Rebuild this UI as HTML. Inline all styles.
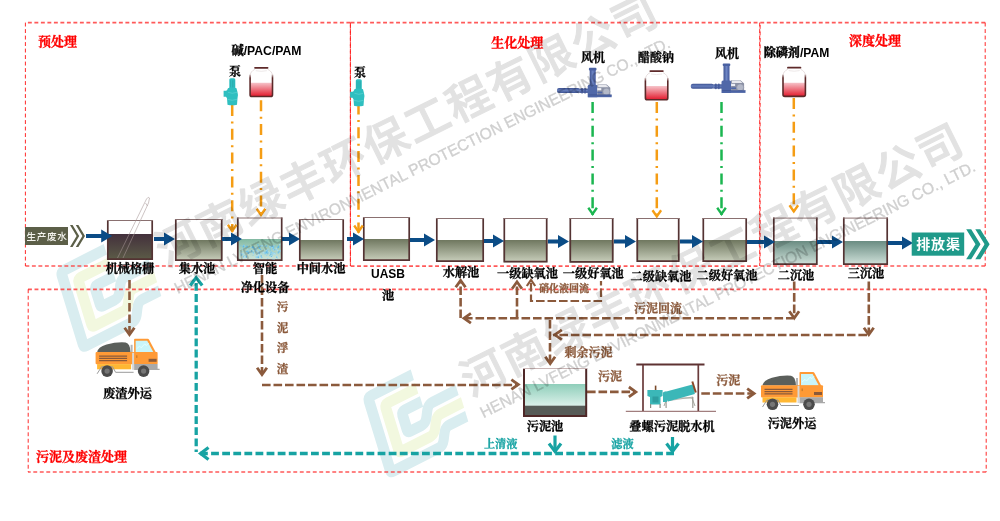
<!DOCTYPE html>
<html lang="zh"><head><meta charset="utf-8"><title>工艺流程图</title>
<style>html,body{margin:0;padding:0;background:#fff;overflow:hidden}svg{display:block;will-change:transform}</style></head>
<body><svg width="1000" height="521" viewBox="0 0 1000 521"><defs>
<linearGradient id="gw" x1="0" y1="0" x2="0" y2="1"><stop offset="0" stop-color="#6f775f"/><stop offset="1" stop-color="#cad0bd"/></linearGradient>
<linearGradient id="gd" x1="0" y1="0" x2="0" y2="1"><stop offset="0" stop-color="#43303c"/><stop offset="1" stop-color="#5c5c47"/></linearGradient>
<linearGradient id="gt" x1="0" y1="0" x2="0" y2="1"><stop offset="0" stop-color="#6a8c82"/><stop offset="1" stop-color="#d2e3dc"/></linearGradient>
<linearGradient id="gc" x1="0" y1="0" x2="0" y2="1"><stop offset="0" stop-color="#82b9a2"/><stop offset="1" stop-color="#d3e8de"/></linearGradient>
<linearGradient id="gs" x1="0" y1="0" x2="0" y2="1"><stop offset="0" stop-color="#8fceba"/><stop offset="1" stop-color="#dcf1ea"/></linearGradient>
<linearGradient id="gr" x1="0" y1="0" x2="0" y2="1"><stop offset="0" stop-color="#f6c3c9"/><stop offset="1" stop-color="#e31b2e"/></linearGradient>
<linearGradient id="gb" gradientUnits="userSpaceOnUse" x1="0" y1="7.5" x2="0" y2="11.5"><stop offset="0" stop-color="#e6dddd"/><stop offset="1" stop-color="#5c2929"/></linearGradient>
<linearGradient id="bp" x1="0" y1="0" x2="0" y2="1"><stop offset="0" stop-color="#3e5392"/><stop offset="0.45" stop-color="#657dbc"/><stop offset="1" stop-color="#3c5190"/></linearGradient>
<linearGradient id="bc" x1="0" y1="0" x2="1" y2="0"><stop offset="0" stop-color="#3e5392"/><stop offset="0.5" stop-color="#6d85c4"/><stop offset="1" stop-color="#40559a"/></linearGradient>
<g id="bottle">
  <path d="M6.5 2H19.5L24.6 8.5V28.5Q24.6 30 23 30H3Q1.4 30 1.4 28.5V8.5Z" fill="#fff"/>
  <path d="M1.8 16.3H24.2V28.4Q24.2 29.8 22.8 29.8H3.2Q1.8 29.8 1.8 28.4Z" fill="url(#gr)"/>
  <path d="M6.6 2.8Q1.9 5 1.8 9.5M19.4 2.8Q24.1 5 24.2 9.5" stroke="#e6dddd" stroke-width="1" fill="none"/>
  <path d="M7.5 4.2Q13 5.4 18.5 4.2" stroke="#e9e2e2" stroke-width="0.8" fill="none"/>
  <path d="M1.8 8V28.2Q1.8 30 3.6 30H22.4Q24.2 30 24.2 28.2V8" fill="none" stroke="url(#gb)" stroke-width="1.6"/>
  <path d="M6.7 1.3H19.3" stroke="#5e2a2a" stroke-width="1.7" stroke-linecap="round"/>
</g>
<g id="pump" fill="#2fbfc0">
  <rect x="6.3" y="0" width="6" height="11" rx="1.5"/>
  <path d="M5 10Q9 8 13.5 10L14.5 14Q15.5 17 14.5 20L14 26.5Q9 27.5 4.5 26.5L4 20L3 18.5H0.6V12.5H3L4 12Z"/>
  <path d="M7.5 2V9M9.5 2V9M11 2V9" stroke="#26a5a8" stroke-width="0.6" fill="none"/>
  <path d="M5 14Q9 16 14 14M4.5 21Q9 23 14 21" stroke="#5fd2d2" stroke-width="0.7" fill="none"/>
</g>
<g id="blower">
  <rect x="0.3" y="20.8" width="23" height="5" rx="2" fill="url(#bp)"/>
  <rect x="22.8" y="21.3" width="9" height="4.3" fill="url(#bp)"/>
  <rect x="24.6" y="20.6" width="1.5" height="5.6" rx="0.6" fill="#44599a"/>
  <rect x="27.6" y="20.6" width="1.5" height="5.6" rx="0.6" fill="#44599a"/>
  <rect x="33" y="2" width="6" height="16.5" fill="url(#bc)"/>
  <rect x="32.2" y="0.5" width="7.6" height="2.6" rx="1" fill="#4a61a2"/>
  <path d="M31 19Q31 17.5 32.5 17.5H39.5Q40.6 17.5 40.6 19V29.9H31Z" fill="#5068a8"/>
  <path d="M40.6 17.2H50L53.6 20.5V27.6H40.6Z" fill="#8a90a4"/>
  <path d="M41.5 17.6H49.5L52 20H41.5Z" fill="#e8e9ee"/>
  <rect x="40.6" y="20.8" width="4" height="2.2" fill="#eef0f5"/>
  <rect x="40.6" y="24.4" width="5" height="1.6" fill="#5068a8"/>
  <circle cx="49.7" cy="24.4" r="3.5" fill="#b4b9c8"/>
  <circle cx="49.7" cy="24.4" r="3.5" fill="none" stroke="#8e94a8" stroke-width="0.6"/>
  <rect x="31.5" y="27.5" width="23.5" height="2.4" fill="#4d65a6"/>
  <path d="M31.5 27.6H55" stroke="#3a4f8c" stroke-width="0.6"/>
</g>
<g id="truck">
  <path d="M1.5 13.5Q2 8.5 11 5.7Q21 3 30 3.7Q34.5 4.5 35 13.5Z" fill="#5b5f5b"/>
  <rect x="35" y="6" width="2" height="8" fill="#b5b5b5"/>
  <path d="M38.5 0.8Q38.5 0 39.4 0H52Q53 0 53.5 0.9L61.5 16V25H38.5Z" fill="#ff9a36"/>
  <path d="M40 2H51.6L57.8 13.5H40Z" fill="#c9f5fa"/>
  <path d="M41 10l3-2.6 1.6 1.6 3.6-4 1.4 1.8 2.6-2.6" stroke="#eaffff" stroke-width="0.8" fill="none"/>
  <rect x="0" y="13.3" width="62" height="12.2" rx="1" fill="#ff9a36"/>
  <rect x="1.5" y="25.3" width="34" height="5.2" fill="#ffb733"/>
  <path d="M38.5 25.3H62V30H64V31.2H38.5Z" fill="#a9a9a9"/>
  <rect x="36.5" y="14" width="2" height="17" fill="#d8d8d8"/>
  <path d="M3.5 17.3H31.5M3.5 19.6H31.5M3.5 21.9H31.5" stroke="#8a5a3a" stroke-width="1.3"/>
  <rect x="53" y="20" width="8" height="3" fill="#8a5a3a"/>
  <rect x="40.6" y="16.5" width="1.2" height="2.6" fill="#c47a2a"/>
  <path d="M1.5 35L6 28H17L20 33.5H38" stroke="#9a9a9a" stroke-width="1" fill="none"/>
  <circle cx="11.5" cy="32.3" r="5.8" fill="#4b4b4b"/><circle cx="11.5" cy="32.3" r="2.6" fill="#767676"/>
  <circle cx="48" cy="32.3" r="5.8" fill="#4b4b4b"/><circle cx="48" cy="32.3" r="2.6" fill="#767676"/>
</g>
<g id="logo" fill="none" stroke-width="11" stroke-linejoin="round">
  <path d="M55 5.2H8.2Q5.2 5.2 5.2 8.2V80.8Q5.2 83.8 8.2 83.8H59C69 83.8 66 67.8 76 67.8H95.5" stroke="#d9edf0"/>
  <path d="M55.3 19.4H22.4Q19.4 19.4 19.4 22.4V66.6Q19.4 69.6 22.4 69.6H54C64 69.6 61 53.6 71 53.6H95.5" stroke="#f2f8df"/>
  <path d="M56 33.6H36.6Q33.6 33.6 33.6 36.6V52.4Q33.6 55.4 36.6 55.4H49C59 55.4 56 39.4 66 39.4H94" stroke="#d9edf0"/>
</g>

</defs>
<use href="#logo" transform="matrix(0.891 -0.454 0.292 0.956 54.8 269.2)"/>
<use href="#logo" transform="matrix(0.891 -0.454 0.292 0.956 361.8 394.7)"/>
<path d="M350.3 22.6H25.4 M25.4 266H350.3" fill="none" stroke="#ff3030" stroke-width="1.7" stroke-dasharray="3.9 2.6" stroke-dashoffset="0" opacity="0.8"/>
<path d="M25.4 22.6V266" fill="none" stroke="#ff2020" stroke-width="1.0" stroke-dasharray="3.9 2.6" stroke-dashoffset="0" opacity="0.95"/>
<path d="M350.4 22.6V266" fill="none" stroke="#ff2020" stroke-width="1.0" stroke-dasharray="3.9 2.6" stroke-dashoffset="0" opacity="0.95"/>
<path d="M350.6 22.7H759.3 M350.6 266.1H759.3" fill="none" stroke="#ff3030" stroke-width="1.7" stroke-dasharray="3.9 2.6" stroke-dashoffset="0" opacity="0.8"/>
<path d="M350.4 24.6V266" fill="none" stroke="#ff2020" stroke-width="1.0" stroke-dasharray="3.9 2.6" stroke-dashoffset="0" opacity="0.95"/>
<path d="M350.4 22.6V266" fill="none" stroke="#ff2020" stroke-width="0.6" stroke-dasharray="3.9 2.6" stroke-dashoffset="3.6" opacity="0.6"/>
<path d="M759.7 22.6V266" fill="none" stroke="#ff2020" stroke-width="1.0" stroke-dasharray="3.9 2.6" stroke-dashoffset="0" opacity="0.95"/>
<path d="M760.3 22.6H985.2 M985.2 266H760.3" fill="none" stroke="#ff3030" stroke-width="1.7" stroke-dasharray="3.9 2.6" stroke-dashoffset="0" opacity="0.8"/>
<path d="M760.1 25V266" fill="none" stroke="#ff2020" stroke-width="1.0" stroke-dasharray="3.9 2.6" stroke-dashoffset="0" opacity="0.95"/>
<path d="M985.2 22.6V266" fill="none" stroke="#ff2020" stroke-width="1.0" stroke-dasharray="3.9 2.6" stroke-dashoffset="0" opacity="0.95"/>
<path d="M28 289.3H986.2 M986.2 472H28" fill="none" stroke="#ff3030" stroke-width="1.7" stroke-dasharray="3.9 2.6" stroke-dashoffset="0" opacity="0.8"/>
<path d="M28.2 289.3V472" fill="none" stroke="#ff2020" stroke-width="1.0" stroke-dasharray="3.9 2.6" stroke-dashoffset="0" opacity="0.95"/>
<path d="M986.2 289.3V472" fill="none" stroke="#ff2020" stroke-width="1.0" stroke-dasharray="3.9 2.6" stroke-dashoffset="0" opacity="0.95"/>
<rect x="107" y="220" width="46" height="40" fill="#fff"/>
<rect x="107" y="234" width="46" height="26" fill="url(#gd)"/>
<path d="M107.8 220V259.2H152.2V220" fill="none" stroke="#543333" stroke-width="1.7"/>
<path d="M107 220.5H153" fill="none" stroke="#8a7070" stroke-width="1"/>
<rect x="175" y="219" width="47.5" height="42" fill="#fff"/>
<rect x="175" y="240" width="47.5" height="21" fill="url(#gw)"/>
<path d="M175.8 219V260.2H221.7V219" fill="none" stroke="#543333" stroke-width="1.7"/>
<path d="M175 219.5H222.5" fill="none" stroke="#8a7070" stroke-width="1"/>
<rect x="237" y="217.5" width="45.5" height="43.5" fill="#fff"/>
<rect x="237" y="239" width="45.5" height="22" fill="url(#gc)"/>
<path d="M237.8 217.5V260.2H281.7V217.5" fill="none" stroke="#543333" stroke-width="1.7"/>
<path d="M237 218.0H282.5" fill="none" stroke="#8a7070" stroke-width="1"/>
<rect x="299" y="219" width="45" height="42" fill="#fff"/>
<rect x="299" y="240" width="45" height="21" fill="url(#gw)"/>
<path d="M299.8 219V260.2H343.2V219" fill="none" stroke="#543333" stroke-width="1.7"/>
<path d="M299 219.5H344" fill="none" stroke="#8a7070" stroke-width="1"/>
<rect x="363" y="217" width="47" height="44" fill="#fff"/>
<rect x="363" y="239" width="47" height="22" fill="url(#gw)"/>
<path d="M363.8 217V260.2H409.2V217" fill="none" stroke="#543333" stroke-width="1.7"/>
<path d="M363 217.5H410" fill="none" stroke="#8a7070" stroke-width="1"/>
<rect x="436" y="218" width="48" height="44" fill="#fff"/>
<rect x="436" y="240" width="48" height="22" fill="url(#gw)"/>
<path d="M436.8 218V261.2H483.2V218" fill="none" stroke="#543333" stroke-width="1.7"/>
<path d="M436 218.5H484" fill="none" stroke="#8a7070" stroke-width="1"/>
<rect x="503.5" y="218" width="44.0" height="44.39999999999998" fill="#fff"/>
<rect x="503.5" y="240" width="44.0" height="22.399999999999977" fill="url(#gw)"/>
<path d="M504.3 218V261.59999999999997H546.7V218" fill="none" stroke="#543333" stroke-width="1.7"/>
<path d="M503.5 218.5H547.5" fill="none" stroke="#8a7070" stroke-width="1"/>
<rect x="569.5" y="218" width="44.0" height="44.60000000000002" fill="#fff"/>
<rect x="569.5" y="240" width="44.0" height="22.600000000000023" fill="url(#gw)"/>
<path d="M570.3 218V261.8H612.7V218" fill="none" stroke="#543333" stroke-width="1.7"/>
<path d="M569.5 218.5H613.5" fill="none" stroke="#8a7070" stroke-width="1"/>
<rect x="636.5" y="218" width="43.0" height="44" fill="#fff"/>
<rect x="636.5" y="240" width="43.0" height="22" fill="url(#gw)"/>
<path d="M637.3 218V261.2H678.7V218" fill="none" stroke="#543333" stroke-width="1.7"/>
<path d="M636.5 218.5H679.5" fill="none" stroke="#8a7070" stroke-width="1"/>
<rect x="702.5" y="218" width="44.5" height="44" fill="#fff"/>
<rect x="702.5" y="240" width="44.5" height="22" fill="url(#gw)"/>
<path d="M703.3 218V261.2H746.2V218" fill="none" stroke="#543333" stroke-width="1.7"/>
<path d="M702.5 218.5H747" fill="none" stroke="#8a7070" stroke-width="1"/>
<rect x="773" y="217.6" width="44.60000000000002" height="47.400000000000006" fill="#fff"/>
<rect x="773" y="241" width="44.60000000000002" height="24" fill="url(#gt)"/>
<path d="M773.8 217.6V264.2H816.8000000000001V217.6" fill="none" stroke="#543333" stroke-width="1.7"/>
<path d="M773 218.1H817.6" fill="none" stroke="#8a7070" stroke-width="1"/>
<rect x="843" y="217.6" width="45" height="47.400000000000006" fill="#fff"/>
<rect x="843" y="241" width="45" height="24" fill="url(#gt)"/>
<path d="M843.8 217.6V264.2H887.2V217.6" fill="none" stroke="#543333" stroke-width="1.7"/>
<path d="M843 218.1H888" fill="none" stroke="#8a7070" stroke-width="1"/>
<g opacity="0.85"><circle cx="253.3" cy="247.8" r="0.78" fill="#6cc4f2"/><circle cx="272.9" cy="246.7" r="0.74" fill="#8fd4f6"/><circle cx="242.0" cy="251.4" r="0.48" fill="#6cc4f2"/><circle cx="262.3" cy="245.8" r="0.73" fill="#8fd4f6"/><circle cx="265.4" cy="252.9" r="0.48" fill="#a5defa"/><circle cx="242.5" cy="248.9" r="0.73" fill="#8fd4f6"/><circle cx="251.9" cy="247.6" r="0.51" fill="#55b6ec"/><circle cx="262.6" cy="253.8" r="0.50" fill="#8fd4f6"/><circle cx="255.2" cy="252.5" r="0.48" fill="#6cc4f2"/><circle cx="265.0" cy="252.1" r="0.72" fill="#55b6ec"/><circle cx="258.9" cy="256.9" r="0.63" fill="#8fd4f6"/><circle cx="271.9" cy="253.9" r="0.57" fill="#55b6ec"/><circle cx="261.2" cy="256.1" r="0.81" fill="#55b6ec"/><circle cx="264.6" cy="246.2" r="0.71" fill="#8fd4f6"/><circle cx="270.4" cy="247.8" r="0.69" fill="#6cc4f2"/><circle cx="278.5" cy="246.3" r="0.73" fill="#55b6ec"/><circle cx="253.9" cy="250.5" r="0.70" fill="#a5defa"/><circle cx="243.2" cy="246.6" r="0.58" fill="#6cc4f2"/><circle cx="242.9" cy="254.0" r="0.77" fill="#a5defa"/><circle cx="251.7" cy="250.9" r="0.78" fill="#6cc4f2"/><circle cx="277.7" cy="250.6" r="0.76" fill="#a5defa"/><circle cx="242.8" cy="254.7" r="0.51" fill="#8fd4f6"/><circle cx="256.2" cy="256.8" r="0.70" fill="#8fd4f6"/><circle cx="258.2" cy="252.5" r="0.89" fill="#a5defa"/><circle cx="274.6" cy="249.7" r="0.66" fill="#55b6ec"/><circle cx="267.5" cy="250.9" r="0.57" fill="#6cc4f2"/><circle cx="247.5" cy="249.0" r="0.57" fill="#a5defa"/><circle cx="273.3" cy="248.3" r="0.59" fill="#8fd4f6"/><circle cx="257.0" cy="250.7" r="0.73" fill="#8fd4f6"/><circle cx="267.8" cy="252.2" r="0.76" fill="#6cc4f2"/><circle cx="258.5" cy="256.0" r="0.93" fill="#a5defa"/><circle cx="256.2" cy="251.0" r="0.69" fill="#a5defa"/><circle cx="243.0" cy="246.0" r="0.55" fill="#8fd4f6"/><circle cx="244.8" cy="253.0" r="0.50" fill="#8fd4f6"/><circle cx="261.7" cy="257.5" r="0.76" fill="#6cc4f2"/><circle cx="275.0" cy="253.1" r="0.52" fill="#55b6ec"/><circle cx="278.2" cy="253.0" r="0.69" fill="#6cc4f2"/><circle cx="274.0" cy="259.1" r="0.68" fill="#a5defa"/><circle cx="252.8" cy="247.6" r="0.82" fill="#55b6ec"/><circle cx="259.4" cy="253.9" r="0.71" fill="#8fd4f6"/><circle cx="278.1" cy="252.4" r="0.52" fill="#6cc4f2"/><circle cx="270.4" cy="249.9" r="0.77" fill="#6cc4f2"/><circle cx="268.0" cy="249.4" r="0.63" fill="#8fd4f6"/><circle cx="254.5" cy="248.9" r="0.72" fill="#55b6ec"/><circle cx="265.6" cy="253.1" r="0.84" fill="#8fd4f6"/><circle cx="272.3" cy="255.3" r="0.82" fill="#8fd4f6"/><circle cx="248.4" cy="252.0" r="0.82" fill="#6cc4f2"/><circle cx="271.7" cy="251.8" r="0.55" fill="#55b6ec"/><circle cx="258.2" cy="257.2" r="0.94" fill="#55b6ec"/><circle cx="243.7" cy="246.8" r="0.69" fill="#55b6ec"/><circle cx="248.6" cy="253.2" r="0.90" fill="#6cc4f2"/><circle cx="259.4" cy="253.5" r="0.85" fill="#6cc4f2"/><circle cx="273.5" cy="247.2" r="0.64" fill="#8fd4f6"/><circle cx="259.4" cy="248.2" r="0.84" fill="#55b6ec"/><circle cx="243.9" cy="257.4" r="0.81" fill="#a5defa"/><circle cx="256.4" cy="257.4" r="0.81" fill="#8fd4f6"/><circle cx="279.7" cy="244.7" r="0.75" fill="#a5defa"/><circle cx="272.4" cy="247.7" r="0.86" fill="#a5defa"/><circle cx="266.5" cy="250.5" r="0.72" fill="#8fd4f6"/><circle cx="241.3" cy="255.0" r="0.81" fill="#6cc4f2"/><circle cx="261.3" cy="257.1" r="0.67" fill="#8fd4f6"/><circle cx="273.1" cy="248.7" r="0.58" fill="#55b6ec"/><circle cx="260.3" cy="254.6" r="0.61" fill="#a5defa"/><circle cx="273.5" cy="245.8" r="0.82" fill="#a5defa"/><circle cx="266.7" cy="255.2" r="0.71" fill="#8fd4f6"/><circle cx="261.5" cy="252.3" r="0.46" fill="#a5defa"/><circle cx="271.2" cy="253.1" r="0.84" fill="#8fd4f6"/><circle cx="247.3" cy="251.8" r="0.81" fill="#6cc4f2"/><circle cx="253.4" cy="252.3" r="0.73" fill="#6cc4f2"/><circle cx="275.4" cy="245.7" r="0.55" fill="#6cc4f2"/><circle cx="271.0" cy="252.2" r="0.73" fill="#6cc4f2"/><circle cx="258.0" cy="253.1" r="0.70" fill="#8fd4f6"/><circle cx="267.9" cy="251.6" r="0.72" fill="#a5defa"/><circle cx="260.6" cy="249.2" r="0.71" fill="#55b6ec"/><circle cx="276.9" cy="256.4" r="0.55" fill="#a5defa"/><circle cx="245.9" cy="247.2" r="0.67" fill="#6cc4f2"/><circle cx="267.0" cy="251.4" r="0.56" fill="#55b6ec"/><circle cx="271.5" cy="256.4" r="0.53" fill="#55b6ec"/><circle cx="246.1" cy="256.2" r="0.93" fill="#8fd4f6"/><circle cx="270.0" cy="246.7" r="0.89" fill="#8fd4f6"/><circle cx="279.6" cy="255.5" r="0.53" fill="#a5defa"/><circle cx="279.8" cy="251.1" r="0.66" fill="#55b6ec"/><circle cx="253.1" cy="254.2" r="0.46" fill="#a5defa"/><circle cx="257.9" cy="244.3" r="0.62" fill="#55b6ec"/><circle cx="260.7" cy="245.9" r="0.94" fill="#8fd4f6"/><circle cx="278.9" cy="246.9" r="0.58" fill="#6cc4f2"/><circle cx="276.3" cy="248.3" r="0.83" fill="#a5defa"/><circle cx="274.1" cy="253.7" r="0.92" fill="#a5defa"/><circle cx="246.4" cy="256.9" r="0.74" fill="#55b6ec"/><circle cx="244.0" cy="245.8" r="0.79" fill="#a5defa"/><circle cx="275.9" cy="249.5" r="0.46" fill="#6cc4f2"/><circle cx="272.2" cy="246.4" r="0.88" fill="#6cc4f2"/><circle cx="250.9" cy="247.2" r="0.46" fill="#a5defa"/><circle cx="277.1" cy="249.5" r="0.51" fill="#8fd4f6"/><circle cx="277.6" cy="258.1" r="0.58" fill="#8fd4f6"/><circle cx="248.5" cy="250.1" r="0.60" fill="#8fd4f6"/><circle cx="252.0" cy="252.1" r="0.54" fill="#55b6ec"/><circle cx="272.2" cy="259.2" r="0.47" fill="#6cc4f2"/><circle cx="269.5" cy="252.6" r="0.54" fill="#a5defa"/><circle cx="250.2" cy="251.6" r="0.78" fill="#a5defa"/><circle cx="266.4" cy="252.5" r="0.89" fill="#55b6ec"/><circle cx="267.7" cy="258.5" r="0.62" fill="#8fd4f6"/><circle cx="256.5" cy="250.5" r="0.48" fill="#8fd4f6"/><circle cx="241.1" cy="253.2" r="0.89" fill="#a5defa"/><circle cx="246.9" cy="246.4" r="0.87" fill="#55b6ec"/><circle cx="264.2" cy="253.9" r="0.47" fill="#8fd4f6"/><circle cx="246.7" cy="251.6" r="0.58" fill="#55b6ec"/><circle cx="278.9" cy="252.5" r="0.57" fill="#55b6ec"/><circle cx="249.1" cy="248.3" r="0.62" fill="#6cc4f2"/><circle cx="259.2" cy="252.1" r="0.55" fill="#6cc4f2"/><circle cx="244.1" cy="255.3" r="0.52" fill="#6cc4f2"/><circle cx="256.1" cy="249.9" r="0.76" fill="#6cc4f2"/><circle cx="263.6" cy="252.4" r="0.83" fill="#a5defa"/><circle cx="270.7" cy="254.2" r="0.70" fill="#55b6ec"/><circle cx="269.1" cy="253.4" r="0.47" fill="#a5defa"/><circle cx="269.5" cy="255.2" r="0.52" fill="#6cc4f2"/><circle cx="273.1" cy="252.9" r="0.90" fill="#8fd4f6"/><circle cx="243.9" cy="245.3" r="0.77" fill="#6cc4f2"/><circle cx="255.4" cy="251.6" r="0.48" fill="#6cc4f2"/><circle cx="265.2" cy="253.7" r="0.69" fill="#6cc4f2"/><circle cx="258.5" cy="246.1" r="0.92" fill="#6cc4f2"/><circle cx="266.5" cy="246.0" r="0.82" fill="#55b6ec"/><circle cx="272.5" cy="255.7" r="0.57" fill="#8fd4f6"/><circle cx="249.6" cy="253.5" r="0.68" fill="#a5defa"/><circle cx="243.5" cy="256.7" r="0.59" fill="#6cc4f2"/><circle cx="264.9" cy="253.4" r="0.49" fill="#8fd4f6"/><circle cx="253.6" cy="253.5" r="0.80" fill="#8fd4f6"/><circle cx="241.0" cy="245.8" r="0.58" fill="#6cc4f2"/><circle cx="267.8" cy="253.7" r="0.60" fill="#55b6ec"/><circle cx="258.9" cy="251.8" r="0.51" fill="#8fd4f6"/><circle cx="252.8" cy="246.5" r="0.69" fill="#55b6ec"/><circle cx="258.6" cy="255.3" r="0.93" fill="#a5defa"/><circle cx="279.8" cy="250.9" r="0.91" fill="#8fd4f6"/><circle cx="243.4" cy="246.6" r="0.82" fill="#55b6ec"/><circle cx="278.1" cy="247.4" r="0.86" fill="#55b6ec"/><circle cx="275.5" cy="254.0" r="0.57" fill="#a5defa"/><circle cx="256.1" cy="247.9" r="0.92" fill="#a5defa"/><circle cx="256.5" cy="254.2" r="0.66" fill="#a5defa"/><circle cx="253.0" cy="255.6" r="0.45" fill="#55b6ec"/><circle cx="273.6" cy="247.2" r="0.91" fill="#6cc4f2"/><circle cx="276.1" cy="249.8" r="0.64" fill="#a5defa"/><circle cx="255.9" cy="256.0" r="0.49" fill="#a5defa"/><circle cx="270.3" cy="255.8" r="0.59" fill="#6cc4f2"/><circle cx="273.5" cy="249.7" r="0.92" fill="#8fd4f6"/><circle cx="278.9" cy="251.5" r="0.61" fill="#55b6ec"/><circle cx="271.5" cy="251.4" r="0.46" fill="#a5defa"/><circle cx="276.6" cy="257.3" r="0.72" fill="#6cc4f2"/><circle cx="242.5" cy="254.3" r="0.68" fill="#8fd4f6"/><circle cx="266.0" cy="249.8" r="0.47" fill="#8fd4f6"/><circle cx="247.2" cy="251.2" r="0.59" fill="#55b6ec"/></g>
<path d="M117.5 258L146.5 199Q148.5 196 149.5 198L148.5 203L123 258 M145.5 203L147.5 206" fill="none" stroke="#a59595" stroke-width="0.7" opacity="0.8"/>
<path d="M86 234H101.2V229.5L112.2 236L101.2 242.5V238H86Z" fill="#0b4c86"/>
<path d="M154 237H164V232.5L175 239L164 245.5V241H154Z" fill="#0b4c86"/>
<path d="M222 237H231V232.5L242 239L231 245.5V241H222Z" fill="#0b4c86"/>
<path d="M282 237H289V232.5L300 239L289 245.5V241H282Z" fill="#0b4c86"/>
<path d="M347 237H353V232.5L364 239L353 245.5V241H347Z" fill="#0b4c86"/>
<path d="M410 238H424V233.5L435 240L424 246.5V242H410Z" fill="#0b4c86"/>
<path d="M484 239H493V234.5L504 241L493 247.5V243H484Z" fill="#0b4c86"/>
<path d="M548 239.5H558V235.0L569 241.5L558 248.0V243.5H548Z" fill="#0b4c86"/>
<path d="M614 239.5H625V235.0L636 241.5L625 248.0V243.5H614Z" fill="#0b4c86"/>
<path d="M680 239.5H692V235.0L703 241.5L692 248.0V243.5H680Z" fill="#0b4c86"/>
<path d="M747 240H764V235.5L775 242L764 248.5V244H747Z" fill="#0b4c86"/>
<path d="M817 240H832V235.5L843 242L832 248.5V244H817Z" fill="#0b4c86"/>
<path d="M888 241H902V236.5L913 243L902 249.5V245H888Z" fill="#0b4c86"/>
<rect x="25" y="227" width="43" height="18" fill="#5c5f48"/>
<text x="47" y="239.7" font-family='"Liberation Sans","Noto Sans CJK SC",sans-serif' font-size="9.6" font-weight="500" fill="#f4f4ee" text-anchor="middle" letter-spacing="0.7">生产废水</text>
<path d="M70 225h2.6l6.6 11l-6.6 11h-2.6l6.6 -11z M75.8 225h2.6l6.6 11l-6.6 11h-2.6l6.6 -11z" fill="#5c5f48"/>
<rect x="911.7" y="232.5" width="52.5" height="23.2" fill="#1f9a8a"/>
<text x="938.5" y="249.3" font-family='"Liberation Sans","Noto Sans CJK SC",sans-serif' font-size="14" font-weight="bold" fill="#fff" text-anchor="middle" letter-spacing="0.8">排放渠</text>
<path d="M966.2 229.3h5l9.3 15l-9.3 15h-5l9.3 -15z M975.3 229.3h5l9.3 15l-9.3 15h-5l9.3 -15z" fill="#1f9a8a"/>
<path d="M262 275V372" fill="none" stroke="#8b5a3c" stroke-width="2.6" stroke-dasharray="8.6 2.9"/>
<path d="M257.10 367.69L262 374.60L266.90 367.69" fill="none" stroke="#8b5a3c" stroke-width="2.8"/>
<text x="130" y="273" font-family='"Liberation Serif","Noto Serif CJK SC",serif' font-size="12.2" font-weight="bold" fill="#000" stroke="#000" stroke-width="0.3" text-anchor="middle" >机械格栅</text>
<text x="197" y="273" font-family='"Liberation Serif","Noto Serif CJK SC",serif' font-size="12.2" font-weight="bold" fill="#000" stroke="#000" stroke-width="0.3" text-anchor="middle" >集水池</text>
<text x="265" y="273" font-family='"Liberation Serif","Noto Serif CJK SC",serif' font-size="12.2" font-weight="bold" fill="#000" stroke="#000" stroke-width="0.3" text-anchor="middle" >智能</text>
<text x="265" y="292" font-family='"Liberation Serif","Noto Serif CJK SC",serif' font-size="12.2" font-weight="bold" fill="#000" stroke="#000" stroke-width="0.3" text-anchor="middle" >净化设备</text>
<text x="321" y="273" font-family='"Liberation Serif","Noto Serif CJK SC",serif' font-size="12.2" font-weight="bold" fill="#000" stroke="#000" stroke-width="0.3" text-anchor="middle" >中间水池</text>
<text x="388" y="278" font-family='"Liberation Sans","Noto Sans CJK SC",sans-serif' font-size="12" font-weight="bold" fill="#000"  text-anchor="middle" >UASB</text>
<text x="388" y="300" font-family='"Liberation Serif","Noto Serif CJK SC",serif' font-size="12.2" font-weight="bold" fill="#000" stroke="#000" stroke-width="0.3" text-anchor="middle" >池</text>
<text x="461" y="276.6" font-family='"Liberation Serif","Noto Serif CJK SC",serif' font-size="12.2" font-weight="bold" fill="#000" stroke="#000" stroke-width="0.3" text-anchor="middle" >水解池</text>
<text x="527.5" y="278.4" font-family='"Liberation Serif","Noto Serif CJK SC",serif' font-size="12.2" font-weight="bold" fill="#000" stroke="#000" stroke-width="0.3" text-anchor="middle" >一级缺氧池</text>
<text x="593.3" y="278.4" font-family='"Liberation Serif","Noto Serif CJK SC",serif' font-size="12.2" font-weight="bold" fill="#000" stroke="#000" stroke-width="0.3" text-anchor="middle" >一级好氧池</text>
<text x="661" y="280.5" font-family='"Liberation Serif","Noto Serif CJK SC",serif' font-size="12.2" font-weight="bold" fill="#000" stroke="#000" stroke-width="0.3" text-anchor="middle" >二级缺氧池</text>
<text x="727" y="279.5" font-family='"Liberation Serif","Noto Serif CJK SC",serif' font-size="12.2" font-weight="bold" fill="#000" stroke="#000" stroke-width="0.3" text-anchor="middle" >二级好氧池</text>
<text x="796" y="280" font-family='"Liberation Serif","Noto Serif CJK SC",serif' font-size="12.2" font-weight="bold" fill="#000" stroke="#000" stroke-width="0.3" text-anchor="middle" >二沉池</text>
<text x="866" y="278" font-family='"Liberation Serif","Noto Serif CJK SC",serif' font-size="12.2" font-weight="bold" fill="#000" stroke="#000" stroke-width="0.3" text-anchor="middle" >三沉池</text>
<text x="38" y="46.3" font-family='"Liberation Serif","Noto Serif CJK SC",serif' font-size="13" font-weight="bold" fill="#ff0000" stroke="#ff0000" stroke-width="0.3" text-anchor="start" >预处理</text>
<text x="491.3" y="46.8" font-family='"Liberation Serif","Noto Serif CJK SC",serif' font-size="13" font-weight="bold" fill="#ff0000" stroke="#ff0000" stroke-width="0.3" text-anchor="start" >生化处理</text>
<text x="849" y="45" font-family='"Liberation Serif","Noto Serif CJK SC",serif' font-size="13" font-weight="bold" fill="#ff0000" stroke="#ff0000" stroke-width="0.3" text-anchor="start" >深度处理</text>
<text x="36" y="460.8" font-family='"Liberation Serif","Noto Serif CJK SC",serif' font-size="13" font-weight="bold" fill="#ff0000" stroke="#ff0000" stroke-width="0.3" text-anchor="start" >污泥及废渣处理</text>
<text x="266.5" y="55" font-family='"Liberation Sans","Noto Serif CJK SC",serif' font-size="12.2" font-weight="bold" fill="#000"  text-anchor="middle" ><tspan stroke="#000" stroke-width="0.45">碱</tspan>/PAC/PAM</text>
<text x="235" y="76" font-family='"Liberation Serif","Noto Serif CJK SC",serif' font-size="12" font-weight="bold" fill="#000" stroke="#000" stroke-width="0.3" text-anchor="middle" >泵</text>
<text x="360" y="77" font-family='"Liberation Serif","Noto Serif CJK SC",serif' font-size="12" font-weight="bold" fill="#000" stroke="#000" stroke-width="0.3" text-anchor="middle" >泵</text>
<text x="593" y="62" font-family='"Liberation Serif","Noto Serif CJK SC",serif' font-size="12" font-weight="bold" fill="#000" stroke="#000" stroke-width="0.3" text-anchor="middle" >风机</text>
<text x="656" y="62" font-family='"Liberation Serif","Noto Serif CJK SC",serif' font-size="12" font-weight="bold" fill="#000" stroke="#000" stroke-width="0.3" text-anchor="middle" >醋酸钠</text>
<text x="727" y="58" font-family='"Liberation Serif","Noto Serif CJK SC",serif' font-size="12" font-weight="bold" fill="#000" stroke="#000" stroke-width="0.3" text-anchor="middle" >风机</text>
<text x="796.5" y="57" font-family='"Liberation Sans","Noto Serif CJK SC",serif' font-size="12.1" font-weight="bold" fill="#000"  text-anchor="middle" ><tspan stroke="#000" stroke-width="0.45">除磷剂</tspan>/PAM</text>
<text x="127.5" y="397.5" font-family='"Liberation Serif","Noto Serif CJK SC",serif' font-size="12.2" font-weight="bold" fill="#000" stroke="#000" stroke-width="0.3" text-anchor="middle" >废渣外运</text>
<text x="545" y="431" font-family='"Liberation Serif","Noto Serif CJK SC",serif' font-size="12.2" font-weight="bold" fill="#000" stroke="#000" stroke-width="0.3" text-anchor="middle" >污泥池</text>
<text x="672" y="431" font-family='"Liberation Serif","Noto Serif CJK SC",serif' font-size="12.2" font-weight="bold" fill="#000" stroke="#000" stroke-width="0.3" text-anchor="middle" >叠螺污泥脱水机</text>
<text x="792" y="427.8" font-family='"Liberation Serif","Noto Serif CJK SC",serif' font-size="12.2" font-weight="bold" fill="#000" stroke="#000" stroke-width="0.3" text-anchor="middle" >污泥外运</text>
<text x="282.5" y="310.7" font-family='"Liberation Serif","Noto Serif CJK SC",serif' font-size="11.5" font-weight="bold" fill="#8b5a3c" stroke="#8b5a3c" stroke-width="0.3" text-anchor="middle" >污</text>
<text x="282.5" y="331.5" font-family='"Liberation Serif","Noto Serif CJK SC",serif' font-size="11.5" font-weight="bold" fill="#8b5a3c" stroke="#8b5a3c" stroke-width="0.3" text-anchor="middle" >泥</text>
<text x="282.5" y="352" font-family='"Liberation Serif","Noto Serif CJK SC",serif' font-size="11.5" font-weight="bold" fill="#8b5a3c" stroke="#8b5a3c" stroke-width="0.3" text-anchor="middle" >浮</text>
<text x="282.5" y="372.5" font-family='"Liberation Serif","Noto Serif CJK SC",serif' font-size="11.5" font-weight="bold" fill="#8b5a3c" stroke="#8b5a3c" stroke-width="0.3" text-anchor="middle" >渣</text>
<text x="564" y="292.2" font-family='"Liberation Serif","Noto Serif CJK SC",serif' font-size="10" font-weight="bold" fill="#8b5a3c" stroke="#8b5a3c" stroke-width="0.3" text-anchor="middle" >硝化液回流</text>
<text x="658" y="313.2" font-family='"Liberation Serif","Noto Serif CJK SC",serif' font-size="12" font-weight="bold" fill="#8b5a3c" stroke="#8b5a3c" stroke-width="0.3" text-anchor="middle" >污泥回流</text>
<text x="588.5" y="356.7" font-family='"Liberation Serif","Noto Serif CJK SC",serif' font-size="12" font-weight="bold" fill="#8b5a3c" stroke="#8b5a3c" stroke-width="0.3" text-anchor="middle" >剩余污泥</text>
<text x="610" y="381" font-family='"Liberation Serif","Noto Serif CJK SC",serif' font-size="12" font-weight="bold" fill="#8b5a3c" stroke="#8b5a3c" stroke-width="0.3" text-anchor="middle" >污泥</text>
<text x="728.2" y="384.5" font-family='"Liberation Serif","Noto Serif CJK SC",serif' font-size="12" font-weight="bold" fill="#8b5a3c" stroke="#8b5a3c" stroke-width="0.3" text-anchor="middle" >污泥</text>
<text x="500.7" y="448.3" font-family='"Liberation Serif","Noto Serif CJK SC",serif' font-size="11.2" font-weight="bold" fill="#17a3a3" stroke="#17a3a3" stroke-width="0.3" text-anchor="middle" >上清液</text>
<text x="622.5" y="448.3" font-family='"Liberation Serif","Noto Serif CJK SC",serif' font-size="11.2" font-weight="bold" fill="#17a3a3" stroke="#17a3a3" stroke-width="0.3" text-anchor="middle" >滤液</text>
<path d="M232.2 105V232" fill="none" stroke="#f59d14" stroke-width="2.5" stroke-dasharray="11 5.4 2 5.4"/>
<path d="M227.90 224.80L232.2 230.93L236.50 224.80" fill="none" stroke="#f59d14" stroke-width="2.4"/>
<path d="M261 100.3V216" fill="none" stroke="#f59d14" stroke-width="2.5" stroke-dasharray="11 5.4 2 5.4"/>
<path d="M256.70 208.80L261 214.93L265.30 208.80" fill="none" stroke="#f59d14" stroke-width="2.4"/>
<path d="M358.5 103.5V232.7" fill="none" stroke="#f59d14" stroke-width="2.5" stroke-dasharray="11 5.4 2 5.4"/>
<path d="M354.20 225.50L358.5 231.63L362.80 225.50" fill="none" stroke="#f59d14" stroke-width="2.4"/>
<path d="M592.6 102V215" fill="none" stroke="#1bb650" stroke-width="2.5" stroke-dasharray="11 5.4 2 5.4"/>
<path d="M588.30 207.80L592.6 213.93L596.90 207.80" fill="none" stroke="#1bb650" stroke-width="2.4"/>
<path d="M656.8 102V217.4" fill="none" stroke="#f59d14" stroke-width="2.5" stroke-dasharray="11 5.4 2 5.4"/>
<path d="M652.50 210.20L656.8 216.33L661.10 210.20" fill="none" stroke="#f59d14" stroke-width="2.4"/>
<path d="M721.5 102V215" fill="none" stroke="#1bb650" stroke-width="2.5" stroke-dasharray="11 5.4 2 5.4"/>
<path d="M717.20 207.80L721.5 213.93L725.80 207.80" fill="none" stroke="#1bb650" stroke-width="2.4"/>
<path d="M793.8 98V212.5" fill="none" stroke="#f59d14" stroke-width="2.5" stroke-dasharray="11 5.4 2 5.4"/>
<path d="M789.50 205.30L793.8 211.43L798.10 205.30" fill="none" stroke="#f59d14" stroke-width="2.4"/>
<path d="M129.5 280V333" fill="none" stroke="#8b5a3c" stroke-width="2.6" stroke-dasharray="8.6 2.9"/>
<path d="M124.60 327.69L129.5 334.60L134.40 327.69" fill="none" stroke="#8b5a3c" stroke-width="2.8"/>
<path d="M262 385H518" fill="none" stroke="#8b5a3c" stroke-width="2.6" stroke-dasharray="8.6 2.9"/>
<path d="M511.39 379.60L518.30 384.5L511.39 389.40" fill="none" stroke="#8b5a3c" stroke-width="2.8"/>
<path d="M460.6 318V283" fill="none" stroke="#8b5a3c" stroke-width="2.6" stroke-dasharray="8.6 2.9"/>
<path d="M464 318.3H793" fill="none" stroke="#8b5a3c" stroke-width="2.6" stroke-dasharray="8.6 2.9"/>
<path d="M794.2 281.6V316" fill="none" stroke="#8b5a3c" stroke-width="2.6" stroke-dasharray="8.6 2.9"/>
<path d="M455.70 287.31L460.6 280.40L465.50 287.31" fill="none" stroke="#8b5a3c" stroke-width="2.8"/>
<path d="M470.91 313.30L464.00 318.2L470.91 323.10" fill="none" stroke="#8b5a3c" stroke-width="2.8"/>
<path d="M789.30 311.19L794.2 318.10L799.10 311.19" fill="none" stroke="#8b5a3c" stroke-width="2.8"/>
<path d="M517 318V284" fill="none" stroke="#8b5a3c" stroke-width="2.6" stroke-dasharray="8.6 2.9"/>
<path d="M512.10 288.71L517 281.80L521.90 288.71" fill="none" stroke="#8b5a3c" stroke-width="2.8"/>
<path d="M531 283V301H601V281" fill="none" stroke="#8b5a3c" stroke-width="2.2" stroke-dasharray="8.6 2.9"/>
<path d="M526.80 286.00L531 279.89L535.20 286.00" fill="none" stroke="#8b5a3c" stroke-width="2.2"/>
<path d="M868.8 281.6V332" fill="none" stroke="#8b5a3c" stroke-width="2.6" stroke-dasharray="8.6 2.9"/>
<path d="M867 335H553" fill="none" stroke="#8b5a3c" stroke-width="2.6" stroke-dasharray="8.6 2.9"/>
<path d="M863.90 327.69L868.8 334.60L873.70 327.69" fill="none" stroke="#8b5a3c" stroke-width="2.8"/>
<path d="M561.81 329.90L554.90 334.8L561.81 339.70" fill="none" stroke="#8b5a3c" stroke-width="2.8"/>
<path d="M550 320V362" fill="none" stroke="#8b5a3c" stroke-width="2.6" stroke-dasharray="8.6 2.9"/>
<path d="M545.30 356.69L550.2 363.60L555.10 356.69" fill="none" stroke="#8b5a3c" stroke-width="2.8"/>
<path d="M587 391.9H634" fill="none" stroke="#8b5a3c" stroke-width="2.6" stroke-dasharray="8.6 2.9"/>
<path d="M628.89 387.00L635.80 391.9L628.89 396.80" fill="none" stroke="#8b5a3c" stroke-width="2.8"/>
<path d="M701.3 393.5H752" fill="none" stroke="#8b5a3c" stroke-width="2.6" stroke-dasharray="8.6 2.9"/>
<path d="M747.19 388.60L754.10 393.5L747.19 398.40" fill="none" stroke="#8b5a3c" stroke-width="2.8"/>
<path d="M196.2 283V452" fill="none" stroke="#17a3a3" stroke-width="3.3" stroke-dasharray="7.8 3.3"/>
<path d="M190.20 285.50L196.2 277.58L202.20 285.50" fill="none" stroke="#17a3a3" stroke-width="3.2"/>
<path d="M200 453.5H675" fill="none" stroke="#17a3a3" stroke-width="3.3" stroke-dasharray="7.8 3.3"/>
<path d="M208.50 447.50L200.58 453.5L208.50 459.50" fill="none" stroke="#17a3a3" stroke-width="3.2"/>
<path d="M549.00 443.50L555 451.42L561.00 443.50" fill="none" stroke="#17a3a3" stroke-width="3.2"/>
<path d="M555 435.5V452" stroke="#17a3a3" stroke-width="3.2"/>
<path d="M666.50 443.50L672.5 451.42L678.50 443.50" fill="none" stroke="#17a3a3" stroke-width="3.2"/>
<path d="M672.5 437V452" stroke="#17a3a3" stroke-width="3.2"/>
<rect x="523" y="368" width="64" height="49" fill="#fff"/>
<rect x="523" y="384" width="64" height="22" fill="url(#gs)"/>
<rect x="523" y="405.7" width="64" height="11" fill="#575b57"/>
<path d="M524 368V416H586.2V368" fill="none" stroke="#4f2828" stroke-width="2"/>
<path d="M523 368.5H587" stroke="#c9b5b5" stroke-width="1"/>
<path d="M636.3 364.6H704.5" fill="none" stroke="#5e3232" stroke-width="2"/>
<path d="M643 365V411 M698.3 365V411" fill="none" stroke="#6a3b3b" stroke-width="1.7"/>
<path d="M625.8 411.3H716" fill="none" stroke="#8a5e5e" stroke-width="1"/>
<g>
<path d="M664 406L667 398H692L695 406" fill="none" stroke="#a9aaa2" stroke-width="1"/>
<path d="M666 401L693 397" stroke="#a9aaa2" stroke-width="0.8"/>
<rect x="665.5" y="399" width="1.2" height="9" fill="#9c9c94"/><rect x="692.2" y="397" width="1.2" height="11" fill="#9c9c94"/>
<rect x="654.8" y="385.6" width="1.6" height="5" fill="#7a4a2a"/>
<path d="M647.4 390H662.6V396L660.5 397V404.5H650V397L647.4 396Z" fill="#3bb7b8"/>
<rect x="652.5" y="396.5" width="6" height="6" fill="#2e9ea0"/>
<rect x="650" y="404" width="1.2" height="4" fill="#8c8c84"/><rect x="659.5" y="404" width="1.2" height="4" fill="#8c8c84"/>
<path d="M664.5 392L692.5 384.5Q695 388.5 694.8 394L668 401.5Q664.5 397 664.5 392Z" fill="#3bb7b8"/>
<path d="M663 392.5Q665 391 667 392V402H663Z" fill="#3bb7b8"/>
<path d="M692.3 381.5L695.8 392.5" stroke="#8a4a2a" stroke-width="2"/>
</g>
<use href="#bottle" x="248.3" y="66.5"/>
<use href="#bottle" x="643.6" y="69.8"/>
<use href="#bottle" x="781.2" y="66.4"/>
<use href="#pump" x="223" y="78.3"/>
<use href="#pump" x="349.5" y="79.3"/>
<use href="#blower" x="556.7" y="67.3"/>
<use href="#blower" x="690.5" y="63"/>
<use href="#truck" x="95.6" y="338.8"/>
<use href="#truck" x="761" y="372"/>
<g transform="translate(165.8 267.5) rotate(-26.4)">
<text x="0" y="0" font-family='"Liberation Sans","Noto Sans CJK SC",sans-serif' font-size="44" font-weight="500" fill="#000" stroke="#000" stroke-width="1.1" stroke-linejoin="round" opacity="0.115" textLength="553" lengthAdjust="spacing">河南绿丰环保工程有限公司</text>
<text x="-1.1" y="29" transform="rotate(-0.2 -1.1 29)" font-family='"Liberation Sans",sans-serif' font-size="16" fill="#000" stroke="#000" stroke-width="0.4" opacity="0.19" textLength="552" lengthAdjust="spacingAndGlyphs">HENAN LVFENG ENVIRONMENTAL PROTECTION ENGINEERING CO., LTD.</text>
</g>
<g transform="translate(470.8 397) rotate(-26.4)">
<text x="0" y="0" font-family='"Liberation Sans","Noto Sans CJK SC",sans-serif' font-size="44" font-weight="500" fill="#000" stroke="#000" stroke-width="1.1" stroke-linejoin="round" opacity="0.115" textLength="553" lengthAdjust="spacing">河南绿丰环保工程有限公司</text>
<text x="1.9" y="24.8" transform="rotate(-0.3 1.9 24.8)" font-family='"Liberation Sans",sans-serif' font-size="16" fill="#000" stroke="#000" stroke-width="0.4" opacity="0.19" textLength="552" lengthAdjust="spacingAndGlyphs">HENAN LVFENG ENVIRONMENTAL PROTECTION ENGINEERING CO., LTD.</text>
</g></svg></body></html>
